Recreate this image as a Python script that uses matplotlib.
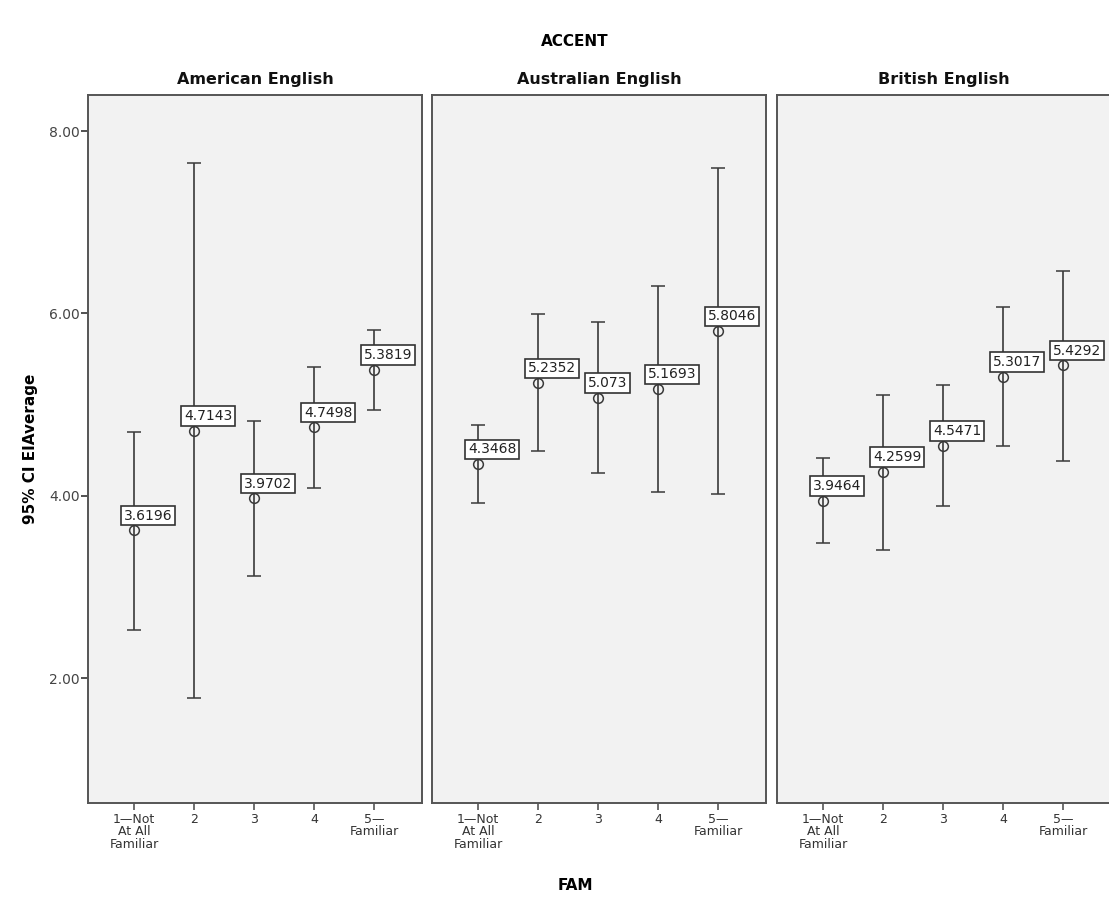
import matplotlib
matplotlib.use('Agg')
import matplotlib.pyplot as plt

# data
accents = ['American English', 'Australian English', 'British English']
fam_levels = [1, 2, 3, 4, 5]
fam_labels = ['1\u2014Not\nAt All\nFamiliar', '2', '3', '4', '5\u2014\nFamiliar']

means_american = [3.6196, 4.7143, 3.9702, 4.7498, 5.3819]
lower_american = [2.53, 1.78, 3.12, 4.08, 4.94]
upper_american = [4.70, 7.65, 4.82, 5.41, 5.82]

means_australian = [4.3468, 5.2352, 5.073, 5.1693, 5.8046]
lower_australian = [3.92, 4.49, 4.25, 4.04, 4.02]
upper_australian = [4.78, 5.99, 5.90, 6.30, 7.59]

means_british = [3.9464, 4.2599, 4.5471, 5.3017, 5.4292]
lower_british = [3.48, 3.41, 3.89, 4.54, 4.38]
upper_british = [4.41, 5.11, 5.21, 6.07, 6.47]

yticks = [2.0, 4.0, 6.0, 8.0]

panels = [
    (means_american, lower_american, upper_american),
    (means_australian, lower_australian, upper_australian),
    (means_british, lower_british, upper_british),
]

W, H = 1109, 913
fig = plt.figure(figsize=(W / 100, H / 100), dpi=100)
fig.patch.set_facecolor('white')

edge = '#555555'
line_col = '#3a3a3a'
lefts = [88, 432, 777]
for i, (acc, (m, lo, hi)) in enumerate(zip(accents, panels)):
    ax = fig.add_axes([lefts[i] / W, 1 - 803 / H, 334 / W, 708 / H])
    ax.set_facecolor('#f2f2f2')
    yerr = [[mm - l for mm, l in zip(m, lo)], [h - mm for mm, h in zip(m, hi)]]
    ax.errorbar(fam_levels, m, yerr=yerr, fmt='o', mfc='none', mec=line_col,
                ms=7, mew=1.1, ecolor=line_col, elinewidth=1.2, capsize=5,
                capthick=1.2, zorder=2)
    for x, v in zip(fam_levels, m):
        txt = f'{v:.4f}'.rstrip('0')
        ax.annotate(txt, (x, v), xytext=(-7.3, 5.6), textcoords='offset points',
                    ha='left', va='bottom', fontsize=10, color='#222222',
                    bbox=dict(boxstyle='square,pad=0.2', fc='white', ec='#333333', lw=1.2),
                    zorder=4, annotation_clip=False)
    ax.set_xlim(0.233, 5.8)
    ax.set_ylim(0.63, 8.395)
    ax.set_xticks(fam_levels)
    ax.set_xticklabels(fam_labels, fontsize=9, color='#333333', linespacing=0.95)
    ax.tick_params(axis='x', direction='out', length=5, width=1.2, color=edge, pad=2)
    if i == 0:
        ax.set_yticks(yticks)
        ax.set_yticklabels([f'{t:.2f}' for t in yticks], fontsize=10, color='#444444')
        ax.tick_params(axis='y', direction='out', length=5, width=1.2, color='#333333', pad=1)
        ax.set_ylabel('95% CI EIAverage', fontsize=11, fontweight='bold', labelpad=8)
    else:
        ax.set_yticks([])
    for s in ax.spines.values():
        s.set_color(edge)
        s.set_linewidth(1.4)
    if i == 2:
        # the last panel runs off the right edge of the picture
        ax.spines['right'].set_visible(False)
    ax.set_title(acc, fontsize=11.5, fontweight='bold', pad=8, color='#111111')

fig.text(575 / W, 1 - 42 / H, 'ACCENT', ha='center', va='center', fontsize=11, fontweight='bold')
fig.text(575 / W, 1 - 885 / H, 'FAM', ha='center', va='center', fontsize=11, fontweight='bold')

fig.savefig('out.png', dpi=100)
